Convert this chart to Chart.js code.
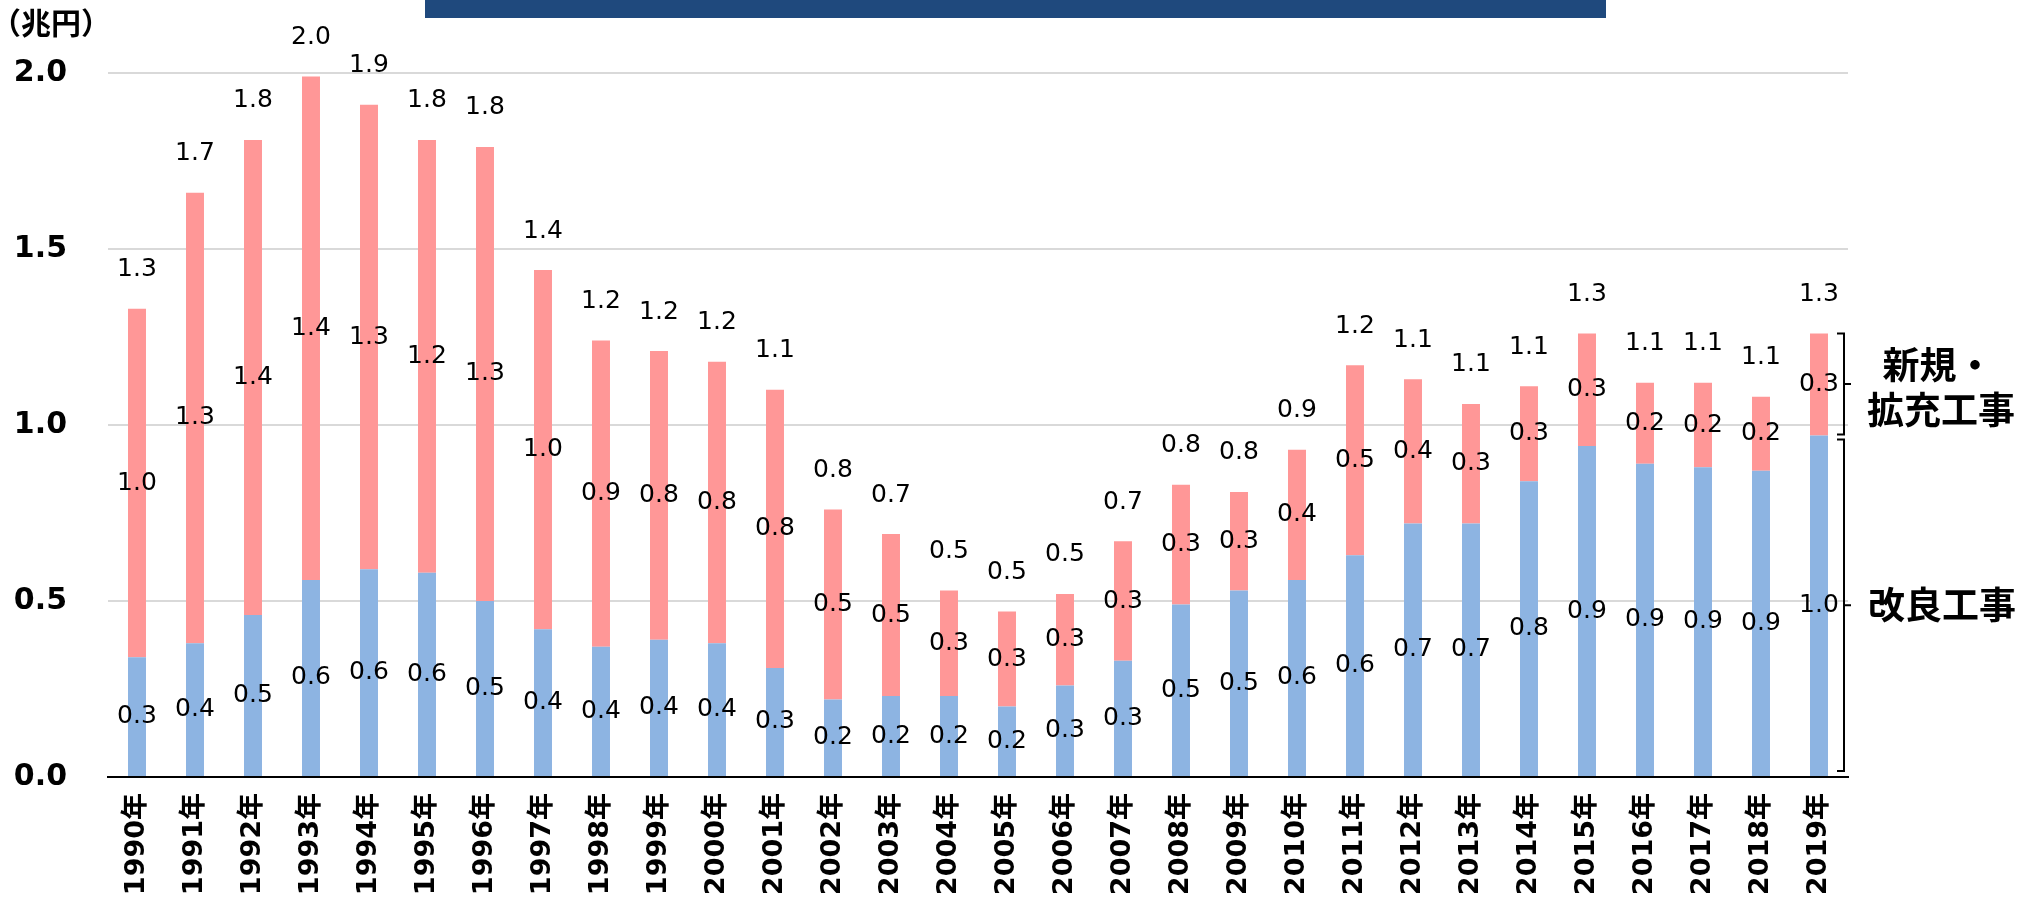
<!DOCTYPE html>
<html lang="ja">
<head>
<meta charset="utf-8">
<script src="https://cdn.jsdelivr.net/npm/chart.js@4.4.1/dist/chart.umd.min.js"></script>
<style>
  html, body { margin: 0; padding: 0; background: #fff; }
  #wrap { position: relative; width: 2022px; height: 898px; }
  #titleBar { position: absolute; left: 425px; top: 0; width: 1181px; height: 18px; background: #1F497D; }
</style>
</head>
<body>
<div id="wrap">
  <canvas id="grafica" width="2022" height="898"></canvas>
  <div id="titleBar"></div>
</div>
<script>
// データ（兆円）
const years = ['1990年','1991年','1992年','1993年','1994年','1995年','1996年','1997年','1998年','1999年',
  '2000年','2001年','2002年','2003年','2004年','2005年','2006年','2007年','2008年','2009年',
  '2010年','2011年','2012年','2013年','2014年','2015年','2016年','2017年','2018年','2019年'];
const kairyo = [0.34,0.38,0.46,0.56,0.59,0.58,0.50,0.42,0.37,0.39,
  0.38,0.31,0.22,0.23,0.23,0.20,0.26,0.33,0.49,0.53,
  0.56,0.63,0.72,0.72,0.84,0.94,0.89,0.88,0.87,0.97];
const shinki = [0.99,1.28,1.35,1.43,1.32,1.23,1.29,1.02,0.87,0.82,
  0.80,0.79,0.54,0.46,0.30,0.27,0.26,0.34,0.34,0.28,
  0.37,0.54,0.41,0.34,0.27,0.32,0.23,0.24,0.21,0.29];
const yTicks = [0, 0.5, 1.0, 1.5, 2.0];

const NUM_FONT = '"DejaVu Sans", "Noto Sans CJK JP", sans-serif';
const JP_FONT = '"Noto Sans CJK JP", "DejaVu Sans", sans-serif';

// 値ラベル（各区分 + 合計）
const valueLabels = {
  id: 'valueLabels',
  afterDatasetsDraw(chart) {
    const ctx = chart.ctx;
    ctx.save();
    ctx.font = '25px ' + NUM_FONT;
    ctx.fillStyle = '#000';
    ctx.textAlign = 'center';
    ctx.textBaseline = 'middle';
    chart.data.datasets.forEach((ds, i) => {
      chart.getDatasetMeta(i).data.forEach((bar, j) => {
        ctx.fillText(ds.data[j].toFixed(1), bar.x, (bar.y + bar.base) / 2);
      });
    });
    chart.getDatasetMeta(1).data.forEach((bar, j) => {
      const total = Math.round((kairyo[j] + shinki[j]) * 100) / 100;
      ctx.fillText(total.toFixed(1), bar.x, bar.y - 39);
    });
    ctx.restore();
  }
};

// 右側の括弧と区分名、左上の単位
const annotations = {
  id: 'annotations',
  afterDraw(chart) {
    const ctx = chart.ctx;
    const y = chart.scales.y;
    const n = kairyo.length - 1;
    const x = chart.chartArea.right - 4;
    const yTop = y.getPixelForValue(kairyo[n] + shinki[n]);
    const yMid = y.getPixelForValue(kairyo[n]);
    const yBot = y.getPixelForValue(0);

    function bracket(y1, y2) {
      const m = (y1 + y2) / 2;
      ctx.beginPath();
      ctx.moveTo(x - 7, y1);
      ctx.lineTo(x, y1);
      ctx.lineTo(x, y2);
      ctx.lineTo(x - 7, y2);
      ctx.moveTo(x, m);
      ctx.lineTo(x + 7, m);
      ctx.stroke();
      return m;
    }

    ctx.save();
    ctx.strokeStyle = '#000';
    ctx.lineWidth = 2;
    const m1 = bracket(yTop, yMid - 1);
    const m2 = bracket(yMid + 4, yBot - 6);

    ctx.fillStyle = '#000';
    ctx.textAlign = 'center';
    ctx.textBaseline = 'middle';
    ctx.font = 'bold 37px ' + JP_FONT;
    ctx.fillText('新規・', 1938, m1 - 19);
    ctx.fillText('拡充工事', 1941, m1 + 26);
    ctx.fillText('改良工事', 1942, m2);

    ctx.textAlign = 'left';
    ctx.font = 'bold 30px ' + JP_FONT;
    ctx.fillText('（兆円）', -9, 23);
    ctx.restore();
  }
};

const ctx = document.getElementById('grafica').getContext('2d');
const chart = new Chart(ctx, {
  type: 'bar',
  data: {
    labels: years,
    datasets: [{
      label: '改良工事',
      data: kairyo,
      backgroundColor: '#8DB4E2',
      borderWidth: 0
    }, {
      label: '新規・拡充工事',
      data: shinki,
      backgroundColor: '#FF9797',
      borderWidth: 0
    }]
  },
  options: {
    responsive: false,
    animation: false,
    devicePixelRatio: 1,
    layout: { padding: { top: 73, right: 174, bottom: 0, left: 0 } },
    plugins: {
      legend: { display: false },
      tooltip: { enabled: false }
    },
    datasets: {
      bar: { barPercentage: 0.31, categoryPercentage: 1 }
    },
    scales: {
      x: {
        stacked: true,
        grid: { display: false, drawTicks: false },
        border: { display: true, color: '#000', width: 2 },
        ticks: {
          autoSkip: false,
          minRotation: 90,
          maxRotation: 90,
          padding: 16,
          color: '#000',
          font: { family: NUM_FONT, size: 27, weight: 'bold' }
        },
        afterFit(scale) { scale.height = 121; }
      },
      y: {
        stacked: true,
        min: 0,
        max: 2.0,
        afterBuildTicks(scale) { scale.ticks = yTicks.map(v => ({ value: v })); },
        grid: {
          drawTicks: false,
          lineWidth: 2,
          color: c => (c.tick && c.tick.value === 0) ? 'rgba(0,0,0,0)' : '#D9D9D9'
        },
        border: { display: false },
        ticks: {
          padding: 41,
          color: '#000',
          font: { family: NUM_FONT, size: 30, weight: 'bold' },
          callback: v => Number(v).toFixed(1)
        },
        afterFit(scale) { scale.width = 108; }
      }
    }
  },
  plugins: [valueLabels, annotations]
});
</script>
</body>
</html>
